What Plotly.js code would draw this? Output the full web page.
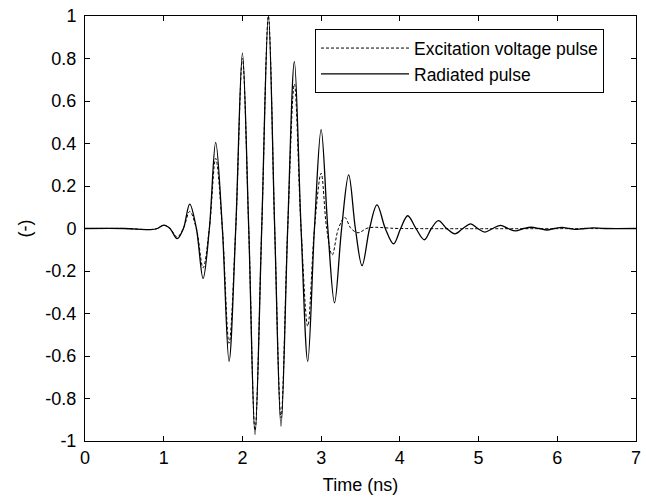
<!DOCTYPE html>
<html>
<head>
<meta charset="utf-8">
<script src="https://cdn.plot.ly/plotly-3.0.1.min.js"></script>
<style>body{margin:0;background:#fff}#chart{width:646px;height:497px}</style>
</head>
<body>
<div id="chart"></div>
<script>
// Excitation voltage pulse (dashed)
var excTime = [0, 0.5, 0.83, 0.92, 1.0, 1.08, 1.17, 1.25, 1.33, 1.415, 1.50, 1.58, 1.66, 1.745, 1.83, 1.915, 2.0, 2.08, 2.16, 2.245, 2.33, 2.41, 2.49, 2.575, 2.66, 2.745, 2.83, 2.915, 3.0, 3.07, 3.14, 3.22, 3.30, 3.38, 3.47, 3.6, 4.0, 7.0];
var excValue = [0, 0, -0.005, 0, 0.015, 0, -0.04, 0, 0.08, 0, -0.185, 0, 0.33, 0, -0.54, 0, 0.80, 0, -0.95, 0, 1.0, 0, -0.89, 0, 0.68, 0, -0.46, 0, 0.26, 0, -0.125, 0, 0.052, 0, -0.02, 0.003, 0, 0];

// Radiated pulse (solid)
var radTime = [0, 0.5, 0.83, 0.92, 1.0, 1.08, 1.17, 1.25, 1.33, 1.415, 1.50, 1.58, 1.66, 1.745, 1.83, 1.915, 2.0, 2.08, 2.16, 2.245, 2.33, 2.41, 2.49, 2.575, 2.66, 2.745, 2.83, 2.915, 3.0, 3.085, 3.17, 3.26, 3.35, 3.435, 3.52, 3.615, 3.71, 3.815, 3.92, 4.01, 4.10, 4.205, 4.31, 4.40, 4.49, 4.595, 4.70, 4.80, 4.90, 4.99, 5.08, 5.18, 5.28, 5.375, 5.47, 5.57, 5.67, 5.77, 5.87, 5.965, 6.06, 6.155, 6.25, 6.35, 6.45, 6.6, 7.0];
var radValue = [0, 0, -0.005, 0, 0.016, 0, -0.048, 0, 0.115, 0, -0.235, 0, 0.405, 0, -0.625, 0, 0.825, 0, -0.97, 0, 1.0, 0, -0.93, 0, 0.785, 0, -0.625, 0, 0.465, 0, -0.35, 0, 0.252, 0, -0.175, 0, 0.111, 0, -0.072, 0, 0.06, 0, -0.053, 0, 0.037, 0, -0.025, 0, 0.022, 0, -0.017, 0, 0.015, 0, -0.011, 0, 0.006, 0, -0.007, 0, 0.005, 0, -0.004, 0, 0.003, 0, 0];

var xTicks = [0, 1, 2, 3, 4, 5, 6, 7];
var xTickText = ["0", "1", "2", "3", "4", "5", "6", "7"];
var yTicks = [-1, -0.8, -0.6, -0.4, -0.2, 0, 0.2, 0.4, 0.6, 0.8, 1];
var yTickText = ["-1", "-0.8", "-0.6", "-0.4", "-0.2", "0", "0.2", "0.4", "0.6", "0.8", "1"];

var font = "Liberation Sans, Arial, Helvetica, sans-serif";

var traces = [
  {x: excTime, y: excValue, type: 'scatter', mode: 'lines', name: 'Excitation voltage pulse',
   line: {color: '#000', width: 1, dash: '3px,2px', shape: 'spline', smoothing: 1}},
  {x: radTime, y: radValue, type: 'scatter', mode: 'lines', name: 'Radiated pulse',
   line: {color: '#000', width: 1.3, shape: 'spline', smoothing: 1}}
];

var layout = {
  width: 646, height: 497,
  margin: {l: 85, r: 10, t: 16, b: 55.5},
  paper_bgcolor: '#fff', plot_bgcolor: '#fff',
  font: {family: font, size: 18, color: '#000'},
  showlegend: true,
  legend: {x: 0.4174, y: 0.969, xanchor: 'left', yanchor: 'top',
           bordercolor: '#000', borderwidth: 1, bgcolor: '#fff',
           font: {family: font, size: 17.5, color: '#000'}, itemwidth: 88,
           entrywidth: 300, entrywidthmode: 'pixels',
           tracegroupgap: 0},
  xaxis: {range: [0, 7], tickvals: xTicks, ticktext: xTickText,
          ticks: 'inside', ticklen: 5, tickcolor: '#000', tickwidth: 1,
          showline: true, linecolor: '#000', linewidth: 1, mirror: 'ticks',
          showgrid: false, zeroline: false, ticklabelstandoff: 0,
          tickfont: {family: font, size: 18},
          title: {text: 'Time (ns)', font: {family: font, size: 18}, standoff: 11}},
  yaxis: {range: [-1, 1], tickvals: yTicks, ticktext: yTickText,
          ticks: 'inside', ticklen: 5, tickcolor: '#000', tickwidth: 1,
          showline: true, linecolor: '#000', linewidth: 1, mirror: 'ticks',
          showgrid: false, zeroline: false, ticklabelstandoff: 4,
          tickfont: {family: font, size: 18},
          title: {text: '(-)', font: {family: font, size: 18}, standoff: 9}}
};

Plotly.newPlot('chart', traces, layout, {displayModeBar: false, staticPlot: true});
</script>
</body>
</html>
